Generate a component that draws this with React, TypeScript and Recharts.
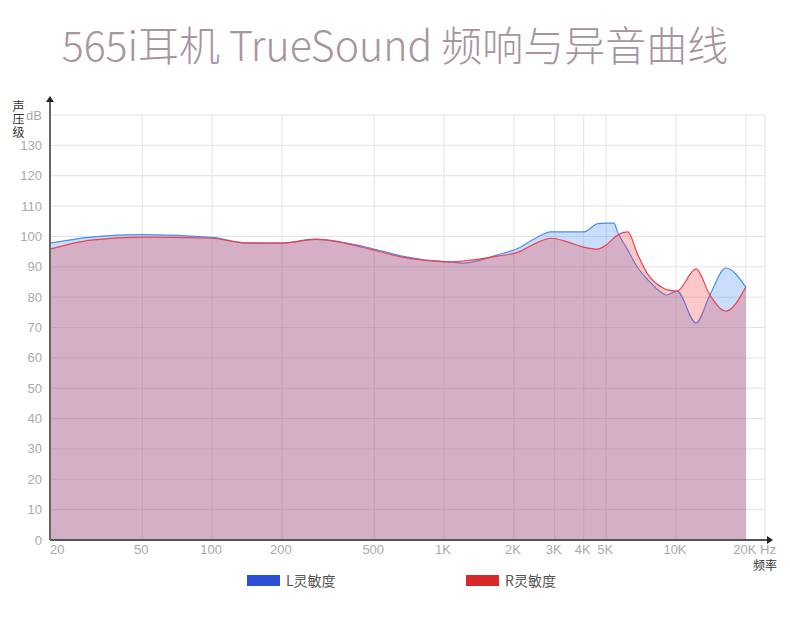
import { AreaChart, Area, XAxis, YAxis, CartesianGrid } from 'recharts';

// frequency response of left / right channel
const freqs = [
  20, 30, 50, 100, 140, 200, 280, 350, 480, 660, 810, 1060, 1200, 1700, 2100,
  2400, 2900, 3400, 4000, 4600, 5000, 5400, 5600, 6200, 6800, 7500, 8800,
  9100, 10100, 12200, 14000, 16400, 20000,
];
const leftDb = [
  97.8, 99.8, 100.6, 99.7, 97.9, 97.8, 99.0, 98.3, 96.2, 93.5, 92.4, 91.6,
  91.2, 93.9, 96.2, 98.8, 101.5, 101.5, 101.5, 104.2, 104.4, 104.4, 101.5,
  95.5, 90.0, 86.0, 81.2, 80.7, 82.0, 71.5, 80.7, 89.6, 83.3,
];
const rightDb = [
  95.8, 98.8, 99.8, 99.4, 97.8, 97.8, 99.1, 98.2, 95.8, 93.2, 92.2, 91.6,
  91.9, 93.5, 94.9, 97.2, 99.4, 98.2, 96.5, 95.8, 97.2, 99.5, 100.5, 101.5,
  94.5, 87.9, 83.0, 82.5, 82.0, 89.3, 80.7, 75.4, 83.3,
];
const xTicks = [20, 50, 100, 200, 500, 1000, 2000, 3000, 4000, 5000, 10000, 20000];
const yTicks = [0, 10, 20, 30, 40, 50, 60, 70, 80, 90, 100, 110, 120, 130, 140];
const seriesNames = ['L灵敏度', 'R灵敏度'];
const legendColors = ['#2a50d8', '#d8282b'];

const data = freqs.map((f, i) => ({ f, L: leftDb[i], R: rightDb[i] }));

const tickFont = '"Liberation Sans", Arial, sans-serif';

function fmtHz(v: number) {
  return v >= 1000 ? `${v / 1000}K` : `${v}`;
}

function XTick(props: any) {
  const { x, y, payload } = props;
  const first = payload.value === xTicks[0];
  return (
    <text
      x={first ? x + 0 : x - 1}
      y={y - 3}
      dy="0.71em"
      textAnchor={first ? 'start' : 'middle'}
      fill="#aaa"
      fontSize={13}
      fontFamily={tickFont}
    >
      {fmtHz(payload.value)}
    </text>
  );
}

function YTick(props: any) {
  const { x, y, payload } = props;
  return (
    <text
      x={x}
      y={y}
      dy="0.35em"
      textAnchor="end"
      fill="#aaa"
      fontSize={13}
      fontFamily={tickFont}
    >
      {payload.value === 140 ? 'dB' : payload.value}
    </text>
  );
}

export default function App() {
  return (
    <div
      style={{
        position: 'absolute',
        left: 0,
        top: 0,
        width: 790,
        height: 626,
        background: '#fff',
        fontFamily: '"Noto Sans CJK SC", "Noto Sans", sans-serif',
      }}
    >
      <div
        style={{
          position: 'absolute',
          left: 0,
          top: 17,
          width: 790,
          textAlign: 'center',
          fontSize: 41,
          fontWeight: 200,
          color: '#a8949f',
          lineHeight: '52px',
          whiteSpace: 'nowrap',
        }}
      >
        565i耳机 TrueSound 频响与异音曲线
      </div>

      <AreaChart
        width={790}
        height={626}
        data={data}
        margin={{ top: 115, right: 25, left: 0, bottom: 56 }}
      >
        <CartesianGrid stroke="#e2e2e2" strokeWidth={1} />
        <XAxis
          dataKey="f"
          type="number"
          scale="log"
          domain={[20, 24200]}
          allowDataOverflow
          ticks={xTicks}
          interval={0}
          height={30}
          tickLine={false}
          axisLine={{ stroke: '#555', strokeWidth: 2 }}
          tick={<XTick />}
        />
        <YAxis
          type="number"
          domain={[0, 140]}
          ticks={yTicks}
          interval={0}
          width={50}
          tickLine={false}
          axisLine={{ stroke: '#666', strokeWidth: 2 }}
          tick={<YTick />}
        />
        <Area
          type="monotone"
          dataKey="L"
          name={seriesNames[0]}
          stroke="#4a8ef0"
          strokeWidth={1.2}
          fill="rgb(72,145,238)"
          fillOpacity={0.3}
          isAnimationActive={false}
          dot={false}
          activeDot={false}
        />
        <Area
          type="monotone"
          dataKey="R"
          name={seriesNames[1]}
          stroke="#f0404c"
          strokeWidth={1.2}
          fill="rgb(247,39,47)"
          fillOpacity={0.255}
          isAnimationActive={false}
          dot={false}
          activeDot={false}
        />
      </AreaChart>

      {/* axis arrows */}
      <svg
        width={790}
        height={626}
        style={{ position: 'absolute', left: 0, top: 0, pointerEvents: 'none' }}
      >
        <line x1={50} y1={116} x2={50} y2={101} stroke="#666" strokeWidth={2} />
        <polygon points="46,102 54,102 50,96" fill="#222" />
        <line x1={764} y1={540} x2={768} y2={540} stroke="#555" strokeWidth={2} />
        <polygon points="767,536 767,544 773,540" fill="#222" />
      </svg>

      <div
        style={{
          position: 'absolute',
          left: 11,
          top: 100,
          fontSize: 12,
          lineHeight: '14px',
          letterSpacing: 1,
          color: '#333',
          writingMode: 'vertical-rl',
        }}
      >
        声压级
      </div>
      <div
        style={{
          position: 'absolute',
          left: 760,
          top: 542,
          fontSize: 13,
          color: '#aaa',
          fontFamily: tickFont,
        }}
      >
        Hz
      </div>
      <div
        style={{
          position: 'absolute',
          left: 753,
          top: 556,
          fontSize: 12,
          color: '#333',
        }}
      >
        频率
      </div>

      {seriesNames.map((name, i) => (
        <div
          key={name}
          style={{
            position: 'absolute',
            left: i === 0 ? 247 : 466,
            top: 570,
            display: 'flex',
            alignItems: 'center',
            fontSize: 14,
            color: '#555',
          }}
        >
          <span
            style={{
              display: 'inline-block',
              width: 33,
              height: 11,
              background: legendColors[i],
              marginRight: 6,
            }}
          />
          {name}
        </div>
      ))}
    </div>
  );
}
